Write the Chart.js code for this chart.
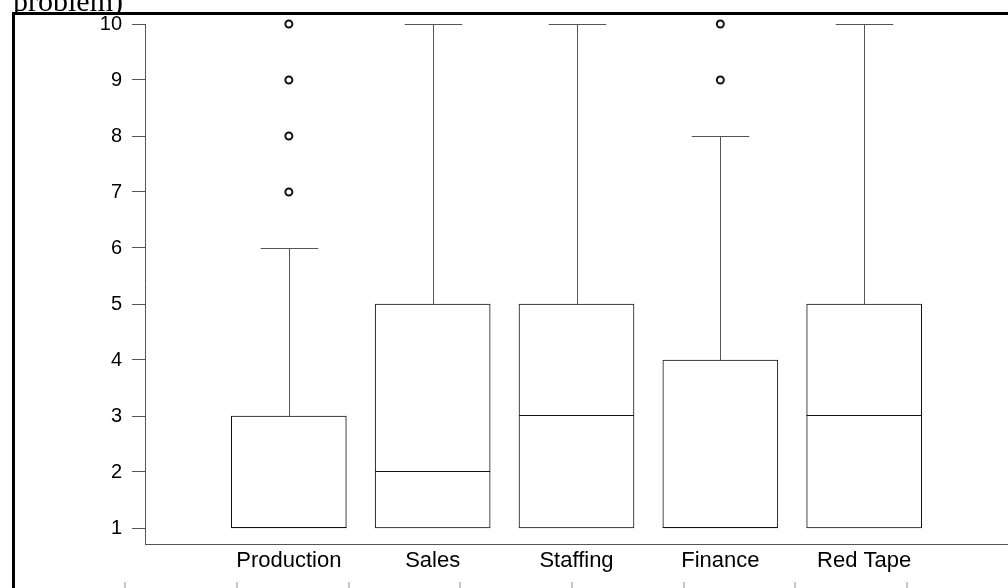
<!DOCTYPE html>
<html>
<head>
<meta charset="utf-8">
<script src="https://cdn.jsdelivr.net/npm/chart.js@4/dist/chart.umd.min.js"></script>
<style>
    html, body { margin: 0; padding: 0; background: #fff; }
    #wrap { width: 1008px; height: 588px; position: relative; }
</style>
</head>
<body>
<div id="wrap"><canvas id="boxChart"></canvas></div>
<script>
// Box plot summaries, one entry per category
const categories = ['Production', 'Sales', 'Staffing', 'Finance', 'Red Tape'];
const q1 = [1, 1, 1, 1, 1];
const q3 = [3, 5, 5, 4, 5];
const medians = [1, 2, 3, 1, 3];
const whiskerLow = [1, 1, 1, 1, 1];
const whiskerHigh = [6, 10, 10, 8, 10];
const outliers = [[7, 8, 9, 10], [], [], [9, 10], []];
const yTicks = [1, 2, 3, 4, 5, 6, 7, 8, 9, 10];

// empty slots at both ends so the boxes sit one step in from the axis ends
const xLabels = [''].concat(categories, ['']);
const boxData = [null].concat(categories.map((c, i) => [q1[i], q3[i]]), [null]);
const outlierPoints = [];
categories.forEach((c, i) => {
    outliers[i].forEach(v => outlierPoints.push({ x: c, y: v }));
});

// plot area is 520px tall; keep 56px per unit so lines land on whole pixels
const yMax = 10;
const yMin = yMax - 520 / 56;

// whiskers, caps and median lines
const whiskerPlugin = {
    id: 'whiskers',
    afterDatasetsDraw(chart) {
        const ctx = chart.ctx;
        const ys = chart.scales.y;
        const box = chart.getDatasetMeta(0).data;
        ctx.save();
        categories.forEach((c, i) => {
            const bar = box[i + 1];
            const half = bar.width / 2;
            const cx = Math.round(bar.x) + 0.5;
            const capHalf = half / 2;
            const yHi = Math.round(ys.getPixelForValue(whiskerHigh[i])) + 0.5;
            const yLo = Math.round(ys.getPixelForValue(whiskerLow[i])) - 0.5;
            const yQ3 = ys.getPixelForValue(q3[i]);
            const yQ1 = ys.getPixelForValue(q1[i]);
            ctx.strokeStyle = '#555';
            ctx.lineWidth = 1;
            ctx.beginPath();
            ctx.moveTo(cx, yQ3);
            ctx.lineTo(cx, yHi);
            ctx.moveTo(cx - capHalf, yHi);
            ctx.lineTo(cx + capHalf, yHi);
            ctx.moveTo(cx, yQ1);
            ctx.lineTo(cx, yLo);
            ctx.stroke();
            ctx.strokeStyle = '#111';
            ctx.beginPath();
            const ym = Math.round(ys.getPixelForValue(medians[i])) - 0.5;
            ctx.moveTo(bar.x - half, ym);
            ctx.lineTo(bar.x + half, ym);
            ctx.stroke();
        });
        ctx.restore();
    }
};

// surrounding page frame, the clipped caption above and the faint table marks below
const framePlugin = {
    id: 'frame',
    afterDraw(chart) {
        const ctx = chart.ctx;
        ctx.save();
        ctx.beginPath();
        ctx.rect(0, 0, chart.width, 12);
        ctx.clip();
        ctx.fillStyle = '#000';
        ctx.font = '30px "Liberation Serif", "Times New Roman", serif';
        ctx.textBaseline = 'alphabetic';
        ctx.fillText('problem)', 13, 11);
        ctx.restore();

        ctx.save();
        ctx.fillStyle = '#000';
        ctx.fillRect(12, 12, chart.width - 12, 3);
        ctx.fillRect(12, 12, 3, chart.height - 12);
        ctx.fillStyle = '#c8c8c8';
        [124, 236, 348, 459, 571, 683, 794, 906].forEach(x => {
            ctx.fillRect(x, 582, 2, 6);
        });
        ctx.restore();
    }
};

const ctx = document.getElementById('boxChart').getContext('2d');
const chart = new Chart(ctx, {
    data: {
        labels: xLabels,
        datasets: [{
            type: 'bar',
            data: boxData,
            backgroundColor: '#fff',
            borderColor: '#111',
            borderWidth: 1,
            borderSkipped: false,
            barThickness: 115
        }, {
            type: 'scatter',
            data: outlierPoints,
            pointRadius: 3.5,
            pointBorderWidth: 2,
            pointBorderColor: '#111',
            pointBackgroundColor: '#fff',
            showLine: false,
            clip: false
        }]
    },
    options: {
        responsive: true,
        maintainAspectRatio: false,
        animation: false,
        layout: {
            autoPadding: false,
            padding: { top: 24, left: 0, right: 0, bottom: 0 }
        },
        plugins: {
            legend: { display: false },
            tooltip: { enabled: false }
        },
        scales: {
            x: {
                type: 'category',
                offset: false,
                grid: { display: false, drawTicks: false },
                border: { display: true, color: '#555', width: 1 },
                ticks: {
                    color: '#000',
                    padding: 4,
                    maxRotation: 0,
                    autoSkip: false,
                    font: { family: '"Liberation Sans", Arial, sans-serif', size: 22 }
                },
                afterFit(scale) {
                    scale.height = 44;
                    scale.paddingLeft = 0;
                    scale.paddingRight = 0;
                }
            },
            y: {
                min: yMin,
                max: yMax,
                afterBuildTicks(axis) {
                    axis.ticks = yTicks.map(v => ({ value: v }));
                },
                grid: {
                    drawOnChartArea: false,
                    drawTicks: true,
                    tickLength: 13,
                    color: '#555'
                },
                border: { display: true, color: '#555', width: 1 },
                ticks: {
                    color: '#000',
                    padding: 10,
                    font: { family: '"Liberation Sans", Arial, sans-serif', size: 20 }
                },
                afterFit(scale) {
                    scale.width = 145;
                }
            }
        }
    },
    plugins: [whiskerPlugin, framePlugin]
});
</script>
</body>
</html>
